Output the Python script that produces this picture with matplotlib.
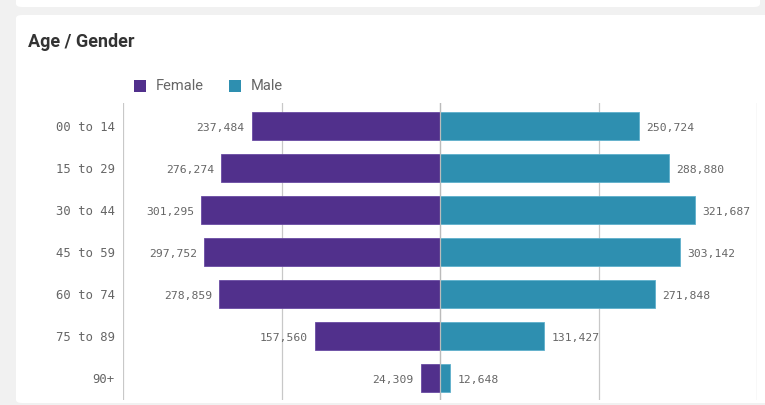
import matplotlib
matplotlib.use("Agg")
import matplotlib.pyplot as plt
from matplotlib.patches import FancyBboxPatch, Rectangle
import numpy as np

categories = ["00 to 14", "15 to 29", "30 to 44", "45 to 59", "60 to 74", "75 to 89", "90+"]
female = [237484, 276274, 301295, 297752, 278859, 157560, 24309]
male = [250724, 288880, 321687, 303142, 271848, 131427, 12648]
series_names = ["Female", "Male"]

c_f = "#51308c"
c_m = "#2e8fb0"
grey_txt = "#666666"

W, H = 765, 405
fig = plt.figure(figsize=(W / 100, H / 100), dpi=100)
fig.patch.set_facecolor("#f1f1f1")

# cards
fig.patches.append(FancyBboxPatch((16 / W, 1 - 7 / H), (760 - 16) / W, 20 / H,
                                  boxstyle="round,pad=0,rounding_size=0.008",
                                  transform=fig.transFigure, facecolor="white", edgecolor="none",
                                  zorder=-10))
fig.patches.append(FancyBboxPatch((16 / W, 2 / H), (W + 10 - 16) / W, (H - 15 - 2) / H,
                                  boxstyle="round,pad=0,rounding_size=0.008",
                                  transform=fig.transFigure, facecolor="white", edgecolor="none",
                                  zorder=-10))

fig.text(28 / W, 1 - 42 / H, "Age / Gender", fontsize=13, fontweight="bold",
         color="#333333", family="Roboto", va="center", ha="left")

# legend
fig.patches.append(Rectangle((134 / W, 1 - 92 / H), 12 / W, 12 / H, transform=fig.transFigure,
                             facecolor=c_f, edgecolor="none"))
fig.text(156 / W, 1 - 86 / H, series_names[0], fontsize=10.5, color=grey_txt, va="center", family="Roboto")
fig.patches.append(Rectangle((229 / W, 1 - 92 / H), 12 / W, 12 / H, transform=fig.transFigure,
                             facecolor=c_m, edgecolor="none"))
fig.text(251 / W, 1 - 86 / H, series_names[1], fontsize=10.5, color=grey_txt, va="center", family="Roboto")

top_px, bot_px = 103, 399.8
ax = fig.add_axes([123 / W, 1 - bot_px / H, (757 - 123) / W, (bot_px - top_px) / H])
ax.set_facecolor("none")
y = np.arange(len(categories))
h = 0.67
ax.barh(y, [-v for v in female], height=h, color=c_f, edgecolor="#6a4ba3", linewidth=0.6, zorder=3)
ax.barh(y, male, height=h, color=c_m, edgecolor="#5fb0cc", linewidth=0.6, zorder=3)

for yi, v in zip(y, female):
    ax.text(-v - 9000, yi + 0.04, f"{v:,}", ha="right", va="center", fontsize=8.2,
            family="DejaVu Sans Mono", color=grey_txt, zorder=4)
for yi, v in zip(y, male):
    ax.text(v + 9000, yi + 0.04, f"{v:,}", ha="left", va="center", fontsize=8.2,
            family="DejaVu Sans Mono", color=grey_txt, zorder=4)

ax.set_xlim(-400000, 400000)
ax.set_ylim(6.52, -0.55)
ax.set_xticks([-400000, -200000, 0, 200000, 400000])
ax.xaxis.grid(True, color="#c8c8c8", linewidth=0.9, zorder=0)
ax.tick_params(axis="x", length=0, labelbottom=False)
ax.set_yticks(y)
ax.set_yticklabels(categories, family="DejaVu Sans Mono", fontsize=8.8, color=grey_txt)
ax.tick_params(axis="y", length=0, pad=6)
for s in ax.spines.values():
    s.set_visible(False)
ax.axvline(0, color="#bbbbbb", linewidth=0.9, zorder=5)

fig.savefig("out.png", dpi=100, facecolor=fig.get_facecolor())
